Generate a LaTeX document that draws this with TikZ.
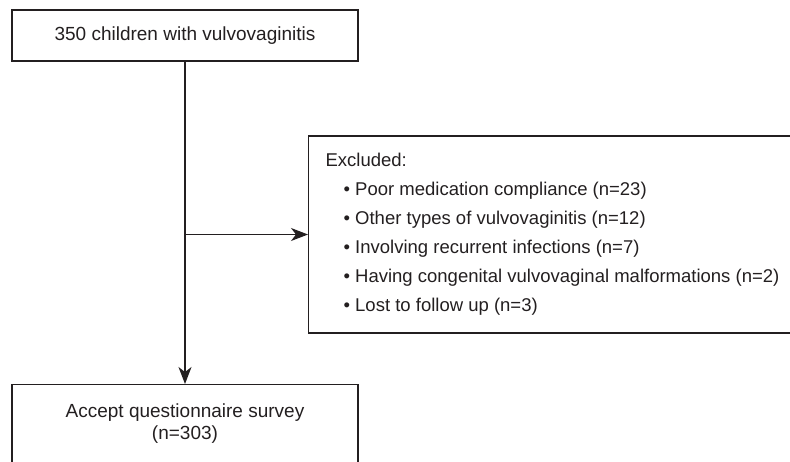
\documentclass[tikz,border=0pt]{standalone}
\usepackage{fontspec}
\setmainfont{Liberation Sans}
\usetikzlibrary{arrows.meta}
\definecolor{ink}{HTML}{231F20}
\tikzstyle{box}=[draw=ink, line width=1.2pt, text=ink, font=\fontsize{19}{22}\selectfont]
\tikzstyle{flow}=[draw=ink, line width=1.2pt, -{Stealth[length=17pt, width=13pt, inset=5pt]}]

\begin{document}
\begin{tikzpicture}[x=1pt, y=-1pt]
				\useasboundingbox (0,0) rectangle (790,461);
				\node[box, minimum width=346pt, minimum height=51pt, inner sep=0pt] (sample) at (185,35.5) {350 children with vulvovaginitis};
				\node[box, minimum width=346pt, minimum height=78pt, inner sep=0pt, align=center, anchor=north] (survey) at (185,384) {Accept questionnaire survey\\(n=303)};
				\node[box, minimum width=482pt, minimum height=197pt, inner xsep=17pt, align=left, anchor=west, font=\fontsize{18.5}{29}\selectfont] (excluded) at (308,234.5) {Excluded:\\
					\hspace*{18pt}\textbullet\ Poor medication compliance (n=23)\\
					\hspace*{18pt}\textbullet\ Other types of vulvovaginitis (n=12)\\
					\hspace*{18pt}\textbullet\ Involving recurrent infections (n=7)\\
					\hspace*{18pt}\textbullet\ Having congenital vulvovaginal malformations (n=2)\\
					\hspace*{18pt}\textbullet\ Lost to follow up (n=3)};
				\coordinate (split) at (sample.south |- excluded.west);
				\draw[flow] (sample.south) -- (survey.north);
				\draw[flow] (split) -- (excluded.west);
			\end{tikzpicture}
\end{document}
